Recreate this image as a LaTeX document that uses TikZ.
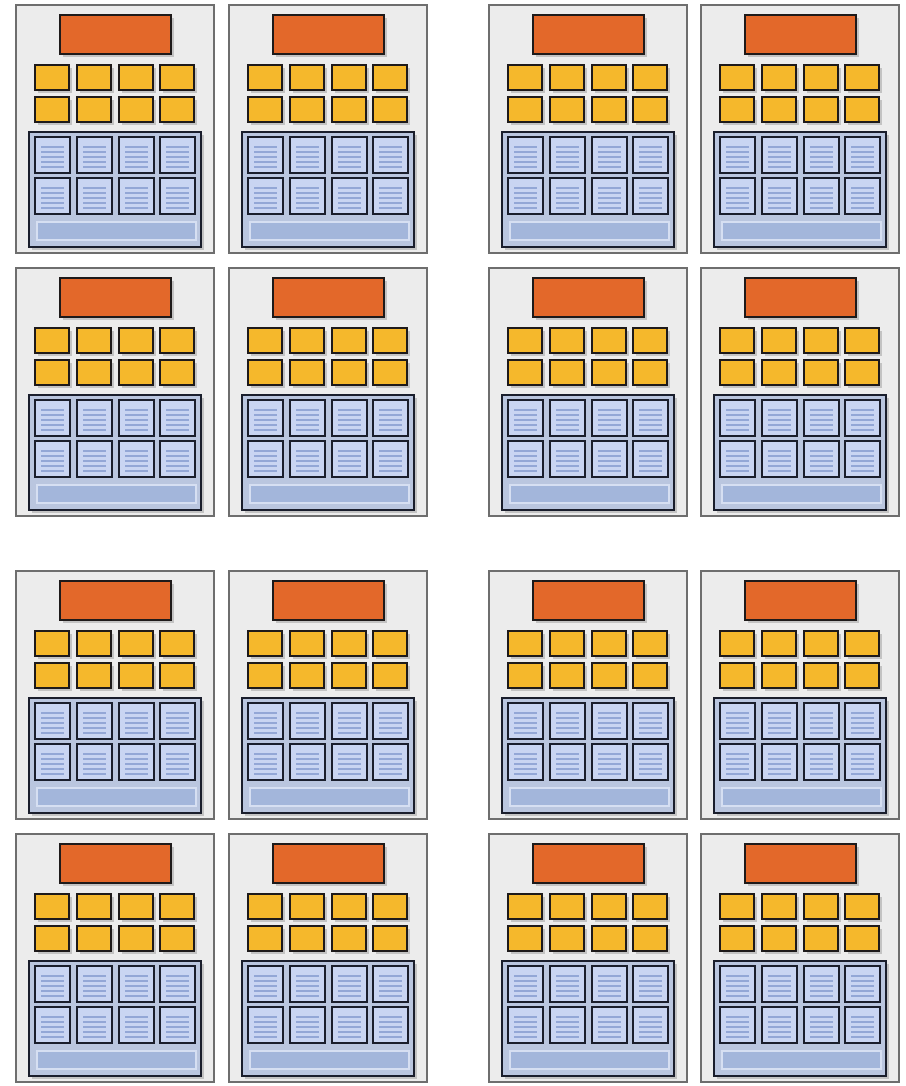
\documentclass[tikz,border=0pt]{standalone}
\usepackage{xcolor}
\usetikzlibrary{shadows}

\definecolor{cellfill}{HTML}{ECECEC}
\definecolor{cellline}{HTML}{6E6E6E}
\definecolor{ctrlfill}{HTML}{E3682A}
\definecolor{alufill}{HTML}{F5B82C}
\definecolor{darkline}{HTML}{1E1A1A}
\definecolor{simdline}{HTML}{1A1E2C}
\definecolor{simdfill}{HTML}{BAC6DF}
\definecolor{ldsfill}{HTML}{A3B6DB}
\definecolor{lanefill}{HTML}{C9D5F2}
\definecolor{laneline}{HTML}{93A7D6}
\definecolor{ldsline}{HTML}{D6DFF2}

\newlength\pxu
\setlength\pxu{0.025cm}

\begin{document}
\begin{tikzpicture}[
  x=0.025cm, y=-0.025cm,
  box/.style={inner sep=0pt, outer sep=0pt, anchor=north west},
  shade box/.style={drop shadow={shadow xshift=2.2pt, shadow yshift=-2pt, opacity=0.25, fill=black!70}},
  cell/.style={box, draw=cellline, fill=cellfill, line width=1pt, minimum width=198*\pxu, minimum height=248*\pxu},
  ctrl/.style={box, shade box, draw=darkline, fill=ctrlfill, line width=1.8pt, minimum width=111*\pxu, minimum height=39*\pxu},
  alu/.style={box, shade box, draw=darkline, fill=alufill, line width=1.8pt, minimum width=34*\pxu, minimum height=25*\pxu},
  simd/.style={box, shade box, draw=simdline, fill=simdfill, line width=2.1pt, minimum width=172*\pxu, minimum height=115*\pxu},
  lane/.style={box, draw=simdline, fill=lanefill, line width=2.1pt, minimum width=35*\pxu, minimum height=36*\pxu,
    path picture={
      \foreach \k in {10,15,20,25,30}
        \draw[laneline, line width=1pt] ([shift={(6,\k)}]path picture bounding box.north west) -- ++(23,0);
    }},
  lds/.style={box, draw=ldsline, fill=ldsfill, line width=0.8pt, minimum width=159*\pxu, minimum height=18*\pxu}
]
  \useasboundingbox (0,0) rectangle (906,1086);

  % sixteen compute units, four groups of two by two
  \foreach \cy in {5,268,571,834}{
    \foreach \cx in {16,229,489,701}{
      \begin{scope}[shift={(\cx,\cy)}]
        \node[cell] (cell-\cx-\cy) at (0,0) {};
        \node[ctrl] (ctrl-\cx-\cy) at (44,10) {};
        \foreach \r/\ry in {1/60,2/92}
          \foreach \c/\rx in {1/19,2/61,3/103,4/144}
            \node[alu] (alu-\cx-\cy-\r-\c) at (\rx,\ry) {};
        \node[simd] (simd-\cx-\cy) at (13,127) {};
        \foreach \r/\ry in {1/132,2/173}
          \foreach \c/\rx in {1/19,2/61,3/103,4/144}
            \node[lane] (lane-\cx-\cy-\r-\c) at (\rx,\ry) {};
        \node[lds] (lds-\cx-\cy) at (21,217) {};
      \end{scope}
    }
  }
\end{tikzpicture}
\end{document}
